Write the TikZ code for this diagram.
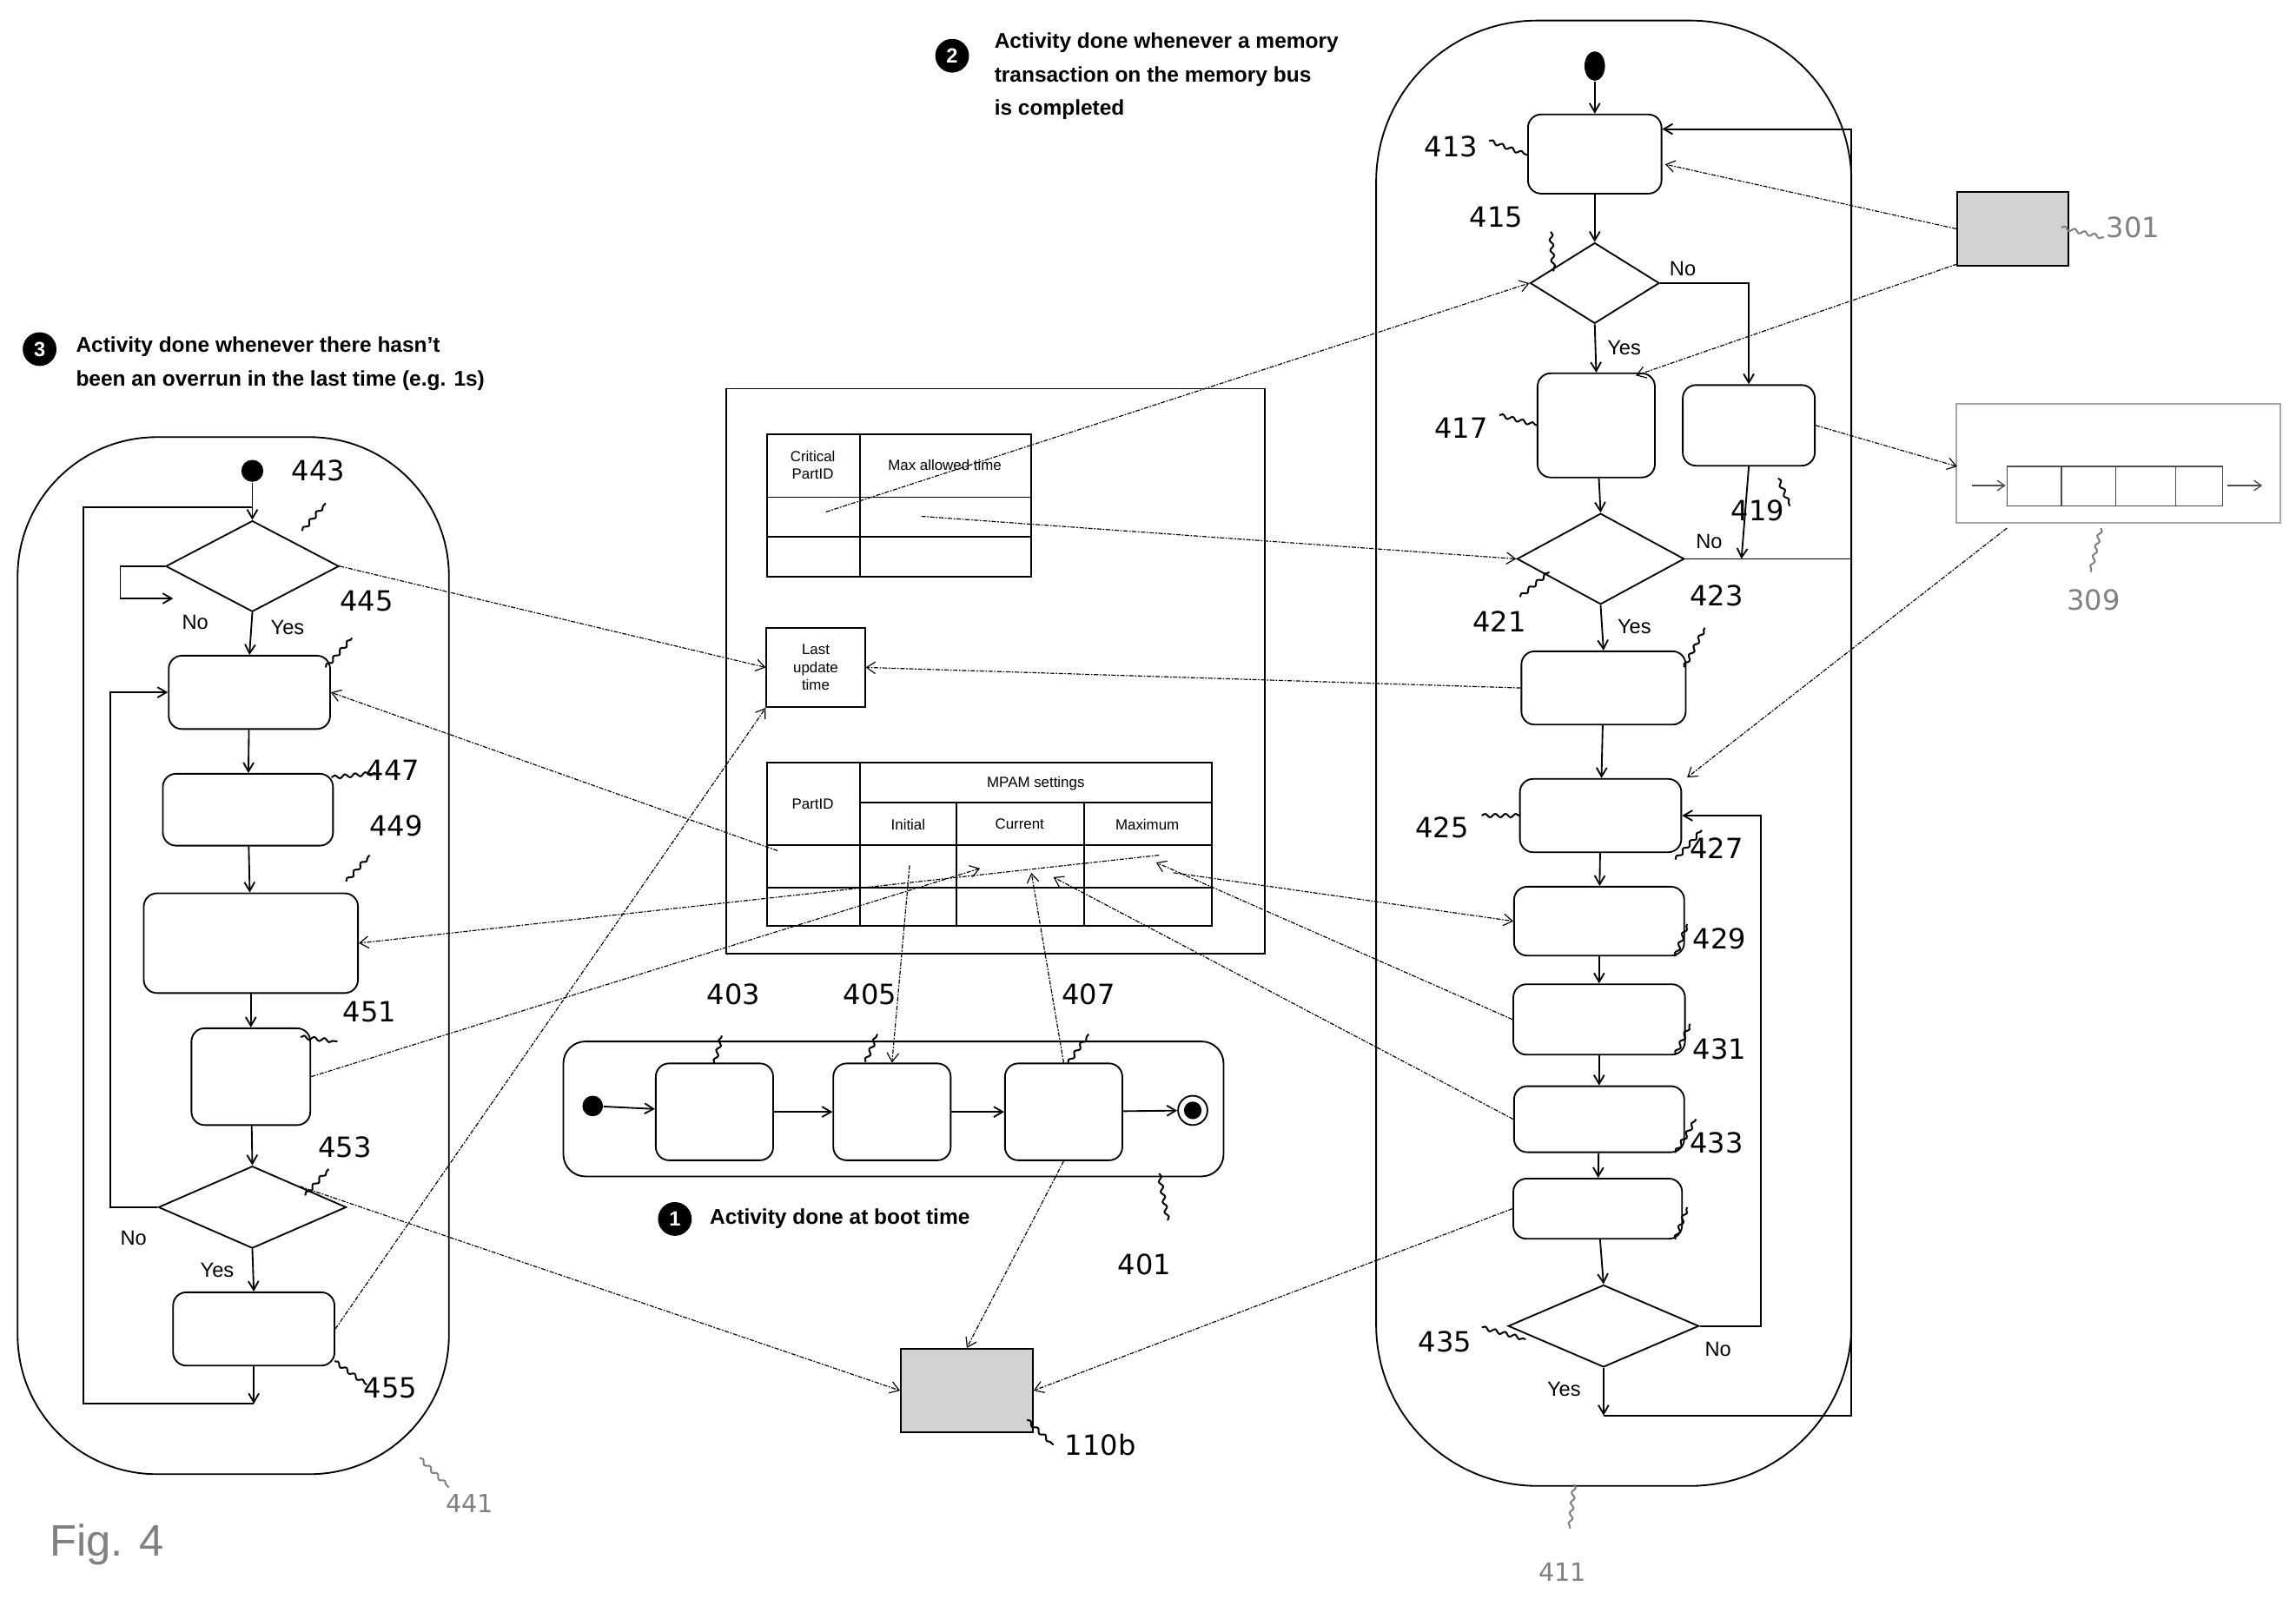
\documentclass[tikz,border=0pt]{standalone}
\usepackage{fontspec}
\setmainfont{Liberation Sans}
\newfontfamily\numf{DejaVu Sans}
\usetikzlibrary{shapes.geometric,arrows.meta,decorations.pathmorphing}
\begin{document}
\begin{tikzpicture}[x=1pt,y=-1pt,line width=1pt,
 box/.style={draw,rounded corners=9pt,inner sep=0,line width=1.1pt},
 dia/.style={draw,diamond,inner sep=0,line width=1.1pt},
 fl/.style={-{Straight Barb[length=6pt,width=7pt]},line width=1.1pt},
 conn/.style={densely dashdotted,line width=0.7pt,-{Straight Barb[length=6pt,width=8pt]}},
 sq/.style={decorate,decoration={snake,amplitude=1.2pt,segment length=7pt},line width=1.2pt},
 num/.style={font=\numf\fontsize{19}{22}\selectfont},
 gnum/.style={font=\numf\fontsize{19}{22}\selectfont,text=gray},
 lab/.style={font=\fontsize{14}{16}\selectfont},
 tb/.style={font=\fontsize{10}{12}\selectfont,align=center},
 hd/.style={font=\bfseries\fontsize{14.5}{23}\selectfont,align=left,anchor=west},
 bul/.style={circle,fill=black,text=white,inner sep=0,minimum size=23pt,font=\bfseries\fontsize{14}{14}\selectfont}]
\useasboundingbox (0,0) rectangle (1565,1090);
% ---------- headers
\node[bul] (h3) at (27,238) {3};
\node[hd] (t3) at (48,248) {Activity done whenever there hasn't\\been an overrun in the last time (e.g. 1s)};
\node[bul] (h2) at (649,38) {2};
\node[hd] (t2) at (674,52) {Activity done whenever a memory\\transaction on the memory bus\\is completed};
\node[bul] (h1) at (460,831) {1};
\node[hd] (t1) at (480,831) {Activity done at boot time};
\node[anchor=west,text=gray,font=\fontsize{30}{34}\selectfont] (fig) at (30,1053) {Fig. 4};
% ---------- left container
\draw[line width=1.1pt,rounded corners=95pt] (12,298) rectangle (306,1005);
\node[circle,fill=black,minimum size=15pt,inner sep=0] (s443) at (172,321) {};
\node[dia,minimum width=118pt,minimum height=62pt] (d443) at (172,386) {};
\node[box,minimum width=110pt,minimum height=50pt] (b445) at (170,472) {};
\node[box,minimum width=116pt,minimum height=49pt] (b447) at (169,552) {};
\node[box,minimum width=146pt,minimum height=68pt] (b449) at (171,643) {};
\node[box,minimum width=81pt,minimum height=66pt] (b451) at (171,734) {};
\node[dia,minimum width=128pt,minimum height=56pt] (d453) at (172,823) {};
\node[box,minimum width=110pt,minimum height=50pt] (b455) at (173,906) {};
\coordinate (e455) at (173,957);
\draw[fl] (s443) -- (d443.north);
\draw[fl] (d443.south) -- (b445.north);
\draw[fl] (b445) -- (b447);
\draw[fl] (b447) -- (b449);
\draw[fl] (b449) -- (b451);
\draw[fl] (b451) -- (d453.north);
\draw[fl] (d453.south) -- (b455.north);
\draw[fl] (b455.south) -- (e455);
\draw (e455) -- (57,957) -- (57,346) -- (172,346);
\draw[fl] (d443.west) -- (82,386) -- (82,408) -- (118,408);
\draw[fl] (d453.west) -- (75,823) |- (b445.west);
\node[lab] (n1) at (133,424) {No};
\node[lab] (y1) at (196,428) {Yes};
\node[lab] (n2) at (91,844) {No};
\node[lab] (y2) at (148,866) {Yes};
\node[num] (l443) at (217,321) {443};
\node[num] (l445) at (250,410) {445};
\node[num] (l447) at (268,525) {447};
\node[num] (l449) at (270,563) {449};
\node[num] (l451) at (252,690) {451};
\node[num] (l453) at (235,782) {453};
\node[num] (l455) at (266,946) {455};
\node[gnum,font=\numf\fontsize{17}{20}\selectfont] (l441) at (320,1025) {441};
\draw[sq] (206,362) -- (222,343);
\draw[sq] (222,455) -- (240,435);
\draw[sq] (226,530) -- (256,527);
\draw[sq] (236,601) -- (252,583);
\draw[sq] (205,707) -- (230,710);
\draw[sq] (208,815) -- (224,797);
\draw[sq] (228,928) -- (250,944);
\draw[sq,gray] (286,994) -- (306,1014);
% ---------- central data box
\draw[line width=1.1pt] (495,265) rectangle (862,650);
\draw[line width=1.1pt] (523,296) rectangle (703,393);
\draw (586,296) -- (586,393) (523,339) -- (703,339) (523,366) -- (703,366);
\node[tb] (c1) at (554,317) {Critical\\PartID};
\node[tb] (c2) at (644,317) {Max allowed time};
\node[draw,line width=1.1pt,minimum width=67pt,minimum height=54pt,inner sep=0,tb] (lut) at (556,455) {Last\\update\\time};
\draw[line width=1.1pt] (523,520) rectangle (826,631);
\draw (586,520) -- (586,631) (586,547) -- (826,547) (523,576) -- (826,576) (523,605) -- (826,605)
      (652,547) -- (652,631) (739,547) -- (739,631);
\node[tb] (m0) at (554,548) {PartID};
\node[tb] (m1) at (706,534) {MPAM settings};
\node[tb] (m2) at (619,562) {Initial};
\node[tb] (m3) at (695,562) {Current};
\node[tb] (m4) at (782,562) {Maximum};
\coordinate (tA) at (563,349);
\coordinate (tB) at (628,352);
\coordinate (tC) at (530,580);
\coordinate (tD) at (790,583);
\coordinate (tE) at (668,592);
\coordinate (tF) at (620,590);
\coordinate (tG) at (703,595);
\coordinate (tH) at (800,595);
\coordinate (tI) at (788,588);
\coordinate (tJ) at (718,598);
% ---------- boot activity
\draw[line width=1.1pt,rounded corners=15pt] (384,710) rectangle (834,802);
\node[circle,fill=black,minimum size=14pt,inner sep=0] (s401) at (404,754) {};
\node[box,minimum width=80pt,minimum height=66pt] (b403) at (487,758) {};
\node[box,minimum width=80pt,minimum height=66pt] (b405) at (608,758) {};
\node[box,minimum width=80pt,minimum height=66pt] (b407) at (725,758) {};
\node[circle,draw,line width=1.1pt,minimum size=20pt,inner sep=0] (e401) at (813,757) {};
\fill (e401.center) circle (6pt);
\draw[fl] (s401) -- (b403);
\draw[fl] (b403) -- (b405);
\draw[fl] (b405) -- (b407);
\draw[fl] (b407) -- (e401);
\node[num] (l403) at (500,678) {403};
\node[num] (l405) at (593,678) {405};
\node[num] (l407) at (742,678) {407};
\node[num] (l401) at (780,862) {401};
\draw[sq] (487,725) -- (492,706);
\draw[sq] (590,724) -- (598,705);
\draw[sq] (728,725) -- (742,705);
\draw[sq] (790,800) -- (796,832);
% ---------- 110b
\node[draw,fill=gray!35,line width=1.1pt,minimum width=90pt,minimum height=57pt,inner sep=0] (k110) at (659,948) {};
\node[num] (l110) at (750,985) {110b};
\draw[sq] (700,968) -- (718,985);
% ---------- right container
\draw[line width=1.1pt,rounded corners=110pt] (938,14) rectangle (1262,1013);
\node[ellipse,fill=black,minimum width=14pt,minimum height=20pt,inner sep=0] (s413) at (1087,45) {};
\node[box,minimum width=91pt,minimum height=54pt] (b413) at (1087,105) {};
\node[dia,minimum width=88pt,minimum height=55pt] (d415) at (1087,193) {};
\node[box,minimum width=80pt,minimum height=71pt] (b417) at (1088,290) {};
\node[box,minimum width=90pt,minimum height=55pt] (b419) at (1192,290) {};
\node[dia,minimum width=114pt,minimum height=62pt] (d421) at (1091,381) {};
\node[box,minimum width=112pt,minimum height=50pt] (b423) at (1093,469) {};
\node[box,minimum width=110pt,minimum height=50pt] (b425) at (1091,556) {};
\node[box,minimum width=116pt,minimum height=47pt] (b427) at (1090,628) {};
\node[box,minimum width=117pt,minimum height=48pt] (b429) at (1090,695) {};
\node[box,minimum width=116pt,minimum height=45pt] (b431) at (1090,763) {};
\node[box,minimum width=115pt,minimum height=41pt] (b433) at (1089,824) {};
\node[dia,minimum width=130pt,minimum height=56pt] (d435) at (1093,904) {};
\coordinate (r413) at (1133,88);
\coordinate (e435) at (1093,965);
\draw[fl] (s413) -- (b413.north);
\draw[fl] (b413) -- (d415.north);
\draw[fl] (d415.south) -- (b417.north);
\draw[fl] (d415.east) -| (b419.north);
\draw[fl] (b417) -- (d421.north);
\draw[fl] (b419.south) -- (1187,381);
\draw (d421.east) -- (1262,381);
\draw[fl] (d421.south) -- (b423.north);
\draw[fl] (b423) -- (b425);
\draw[fl] (b425) -- (b427);
\draw[fl] (b427) -- (b429);
\draw[fl] (b429) -- (b431);
\draw[fl] (b431) -- (b433);
\draw[fl] (b433) -- (d435.north);
\draw[fl] (d435.east) -- (1200,904) |- (b425.east);
\draw[fl] (d435.south) -- (e435);
\draw[fl] (e435) -- (1262,965) -- (1262,88) -- (r413);
\node[lab] at (1147,183) {No};
\node[lab] at (1107,237) {Yes};
\node[lab] at (1165,369) {No};
\node[lab] at (1114,427) {Yes};
\node[lab] at (1171,920) {No};
\node[lab] at (1066,947) {Yes};
\node[num] at (989,100) {413};
\node[num] at (1020,148) {415};
\node[num] at (996,292) {417};
\node[num] at (1198,348) {419};
\node[num] at (1022,424) {421};
\node[num] at (1170,406) {423};
\node[num] at (983,564) {425};
\node[num] at (1170,578) {427};
\node[num] at (1172,640) {429};
\node[num] at (1172,715) {431};
\node[num] at (1170,779) {433};
\node[num] at (985,915) {435};
\node[gnum,font=\numf\fontsize{17}{20}\selectfont] at (1065,1072) {411};
\draw[sq] (1015,96) -- (1042,106);
\draw[sq] (1057,158) -- (1059,185);
\draw[sq] (1022,283) -- (1048,290);
\draw[sq] (1212,326) -- (1220,345);
\draw[sq] (1036,407) -- (1056,390);
\draw[sq] (1148,455) -- (1162,428);
\draw[sq] (1010,556) -- (1036,556);
\draw[sq] (1142,586) -- (1160,566);
\draw[sq] (1142,652) -- (1150,630);
\draw[sq] (1142,719) -- (1152,698);
\draw[sq] (1142,786) -- (1156,763);
\draw[sq] (1142,845) -- (1150,823);
\draw[sq] (1010,905) -- (1040,913);
\draw[sq,gray] (1073,1012) -- (1070,1042);
% ---------- 301, 309
\node[draw,fill=gray!35,line width=1pt,minimum width=76pt,minimum height=50pt,inner sep=0] (k301) at (1372,156) {};
\node[gnum] at (1454,155) {301};
\draw[sq,gray] (1405,155) -- (1434,162);
\node[draw=gray!70,line width=1pt,minimum width=221pt,minimum height=81pt,inner sep=0] (k309) at (1444,316) {};
\draw[gray!60!black,line width=0.8pt] (1368,318) rectangle (1515,345) (1405,318) -- (1405,345) (1442,318) -- (1442,345) (1483,318) -- (1483,345);
\draw[gray!60!black,line width=0.8pt,-{Straight Barb[length=5pt,width=7pt]}] (1344,331) -- (1367,331);
\draw[gray!60!black,line width=0.8pt,-{Straight Barb[length=5pt,width=7pt]}] (1518,331) -- (1542,331);
\node[gnum] at (1427,409) {309};
\draw[sq,gray] (1432,360) -- (1425,390);
% ---------- dash-dot connectors
\draw[conn] (k301.west) -- (1135,112);
\draw[conn] (1334,180) -- (1115,256);
\draw[conn] (b419.east) -- (1334,318);
\draw[conn] (1368,360) -- (1150,530);
\draw[conn] (tA) -- (d415.west);
\draw[conn] (tB) -- (d421.west);
\draw[conn] (b423.west) -- (lut.east);
\draw[conn] (d443.east) -- (lut.west);
\draw[conn] (b455.east) -- (lut.south west);
\draw[conn] (tC) -- (b445.east);
\draw[conn] (tD) -- (b449.east);
\draw[conn] (b451.east) -- (tE);
\draw[conn] (tF) -- (b405.north);
\draw[conn] (b407.north) -- (tG);
\draw[conn] (b407.south) -- (k110.north);
\draw[conn] (tH) -- (b427.west);
\draw[conn] (b429.west) -- (tI);
\draw[conn] (b431.west) -- (tJ);
\draw[conn] (b433.west) -- (k110.east);
\draw[conn] (d453.north east) -- (k110.west);
\end{tikzpicture}
\end{document}
